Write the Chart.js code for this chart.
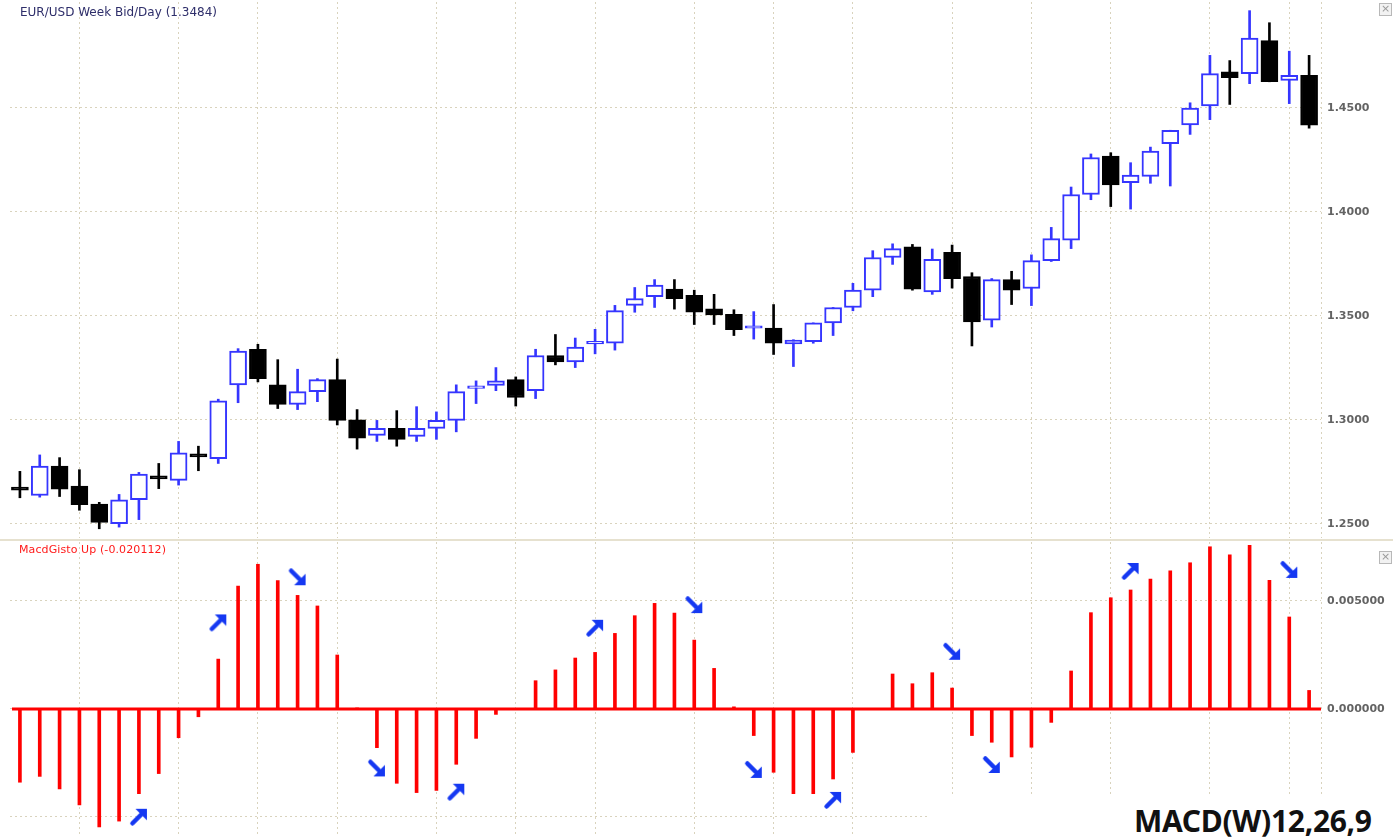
<!DOCTYPE html>
<html>
<head>
<meta charset="utf-8">
<title>EUR/USD Week + MACD</title>
<script src="https://cdn.jsdelivr.net/npm/chart.js@4.4.1/dist/chart.umd.min.js"></script>
<style>
  html, body { margin: 0; padding: 0; background: #fff; }
  #wrap { position: relative; width: 1393px; height: 837px; overflow: hidden; font-family: "DejaVu Sans", sans-serif; }
  .pane { position: absolute; left: 0; width: 1393px; }
  #pricePane { top: 0; height: 540px; }
  #macdPane { top: 541px; height: 296px; }
  .divider { position: absolute; left: 0; top: 539px; width: 1393px; height: 2px; background: #e6e1cf; }
  .title { position: absolute; white-space: nowrap; line-height: 13px; }
  #priceTitle { left: 20px; top: 6px; color: #2e2e6a; font-size: 12px; }
  #macdTitle { left: 19px; top: 543px; color: #ff1a1a; font-size: 11px; letter-spacing: 0.1px; }
  .closeBox { position: absolute; left: 1379px; width: 11px; height: 11px; border: 1px solid #b8b8b8; background: #f2f2f2;
              color: #999; font-size: 11px; line-height: 10px; text-align: center; }
  #macdName { position: absolute; left: 930px; top: 794px; width: 463px; height: 43px; background: #fff; }
  #macdName span { position: absolute; left: 204px; top: 6px; font: bold 30px "Noto Sans", sans-serif; color: #111; letter-spacing: -0.3px; }
</style>
</head>
<body>
<div id="wrap">
  <div class="pane" id="pricePane"><canvas id="priceChart"></canvas></div>
  <div class="divider"></div>
  <div class="pane" id="macdPane"><canvas id="macdChart"></canvas></div>
  <div class="title" id="priceTitle">EUR/USD Week Bid/Day (1.3484)</div>
  <div class="title" id="macdTitle">MacdGisto Up (-0.020112)</div>
  <div class="closeBox" style="top:3px">×</div>
  <div class="closeBox" style="top:551px">×</div>
  <div id="macdName"><span>MACD(W)12,26,9</span></div>
</div>
<script>
// Weekly EUR/USD candles (week index 0..65)
const opens = [
  1.2677, 1.2637, 1.2778, 1.2682, 1.2596, 1.2502, 1.2617, 1.2731, 1.2710, 1.2837,
  1.2814, 1.3169, 1.3340, 1.3169, 1.3075, 1.3136, 1.3194, 1.3001, 1.2926, 1.2960,
  1.2921, 1.2960, 1.2998, 1.3152, 1.3166, 1.3194, 1.3141, 1.3310, 1.3279, 1.3366,
  1.3369, 1.3551, 1.3593, 1.3629, 1.3599, 1.3535, 1.3508, 1.3441, 1.3442, 1.3366,
  1.3376, 1.3467, 1.3541, 1.3624, 1.3781, 1.3832, 1.3616, 1.3806, 1.3690, 1.3480,
  1.3675, 1.3632, 1.3766, 1.3865, 1.4084, 1.4269, 1.4141, 1.4171, 1.4328, 1.4419,
  1.4510, 1.4674, 1.4665, 1.4824, 1.4632, 1.4657
];
const highs = [
  1.2753, 1.2832, 1.2819, 1.2761, 1.2604, 1.2642, 1.2748, 1.2791, 1.2897, 1.2874,
  1.3100, 1.3343, 1.3364, 1.3290, 1.3244, 1.3199, 1.3293, 1.3050, 1.2998, 1.3045,
  1.3064, 1.3039, 1.3169, 1.3188, 1.3252, 1.3207, 1.3340, 1.3411, 1.3394, 1.3436,
  1.3551, 1.3637, 1.3675, 1.3675, 1.3624, 1.3604, 1.3530, 1.3521, 1.3555, 1.3386,
  1.3467, 1.3541, 1.3657, 1.3814, 1.3847, 1.3844, 1.3822, 1.3841, 1.3708, 1.3680,
  1.3715, 1.3794, 1.3926, 1.4120, 1.4279, 1.4285, 1.4237, 1.4312, 1.4393, 1.4525,
  1.4753, 1.4728, 1.4968, 1.4910, 1.4773, 1.4753
];
const lows = [
  1.2626, 1.2629, 1.2632, 1.2566, 1.2477, 1.2485, 1.2521, 1.2670, 1.2687, 1.2756,
  1.2791, 1.3083, 1.3183, 1.3055, 1.3050, 1.3088, 1.2976, 1.2860, 1.2897, 1.2874,
  1.2897, 1.2907, 1.2943, 1.3079, 1.3141, 1.3067, 1.3103, 1.3265, 1.3252, 1.3318,
  1.3336, 1.3518, 1.3541, 1.3533, 1.3459, 1.3459, 1.3406, 1.3389, 1.3315, 1.3257,
  1.3369, 1.3406, 1.3525, 1.3593, 1.3748, 1.3624, 1.3604, 1.3634, 1.3356, 1.3447,
  1.3555, 1.3550, 1.3762, 1.3824, 1.4059, 1.4026, 1.4014, 1.4138, 1.4125, 1.4373,
  1.4444, 1.4517, 1.4617, 1.4626, 1.4521, 1.4403
];
const closes = [
  1.2663, 1.2778, 1.2667, 1.2593, 1.2508, 1.2616, 1.2740, 1.2717, 1.2842, 1.2823,
  1.3092, 1.3331, 1.3199, 1.3075, 1.3136, 1.3194, 1.2998, 1.2913, 1.2960, 1.2907,
  1.2960, 1.2998, 1.3136, 1.3164, 1.3188, 1.3108, 1.3310, 1.3279, 1.3351, 1.3378,
  1.3526, 1.3584, 1.3649, 1.3583, 1.3518, 1.3505, 1.3434, 1.3453, 1.3369, 1.3384,
  1.3467, 1.3541, 1.3624, 1.3781, 1.3824, 1.3629, 1.3773, 1.3679, 1.3472, 1.3675,
  1.3624, 1.3766, 1.3872, 1.4084, 1.4262, 1.4130, 1.4178, 1.4293, 1.4393, 1.4500,
  1.4665, 1.4646, 1.4836, 1.4626, 1.4657, 1.4417
];

// MACD histogram, one bar per week
const macdHist = [
  -0.00339, -0.00312, -0.00370, -0.00444, -0.00546, -0.00519, -0.00392, -0.00299, -0.00133, -0.00036,
   0.00231,  0.00569,  0.00670,  0.00594,  0.00526,  0.00477,  0.00250,  0.00005, -0.00179, -0.00344,
  -0.00387, -0.00377, -0.00256, -0.00136, -0.00025,  0.00002,  0.00131,  0.00181,  0.00236,  0.00262,
   0.00350,  0.00432,  0.00489,  0.00444,  0.00319,  0.00188,  0.00010, -0.00123, -0.00293, -0.00392,
  -0.00392, -0.00324, -0.00201,  0.00002,  0.00162,  0.00117,  0.00168,  0.00097, -0.00123, -0.00154,
  -0.00222, -0.00177, -0.00062,  0.00176,  0.00446,  0.00515,  0.00551,  0.00602,  0.00640,  0.00677,
   0.00751,  0.00714,  0.00758,  0.00596,  0.00426,  0.00086
];

// blue turn arrows on the histogram (week, level, 1 = up / -1 = down)
const arrowWeeks  = [6, 10, 14, 18, 22, 29, 34, 37, 41, 47, 49, 56, 64];
const arrowLevels = [-0.00499, 0.00401, 0.00610, -0.00275, -0.00383, 0.00376, 0.00481, -0.00282, -0.00421, 0.00265, -0.00259, 0.00639, 0.00644];
const arrowDirs   = [1, 1, -1, -1, 1, 1, -1, -1, 1, -1, -1, 1, -1];

// axis ticks / month separators
const monthStartWeeks = [3, 8, 12, 16, 21, 25, 29, 34, 38, 42, 47, 51, 55, 60, 64];
const priceTicks = [1.25, 1.30, 1.35, 1.40, 1.45];
const macdTicks = [-0.005, 0, 0.005];

const weeks = opens.map((_, i) => i);
const X_MIN = -0.5, X_MAX = 65.6;

const UP_COLOR = '#3535ff';
const DOWN_COLOR = '#000000';
const GRID_COLOR = '#d9d3bd';
const isUp = i => closes[i] >= opens[i];

const xScaleOpts = {
    type: 'linear',
    min: X_MIN,
    max: X_MAX,
    offset: false,
    ticks: { display: false },
    border: { display: false, dash: [2, 3] },
    grid: { color: GRID_COLOR, drawTicks: false, offset: false },
    afterBuildTicks: (scale) => {
        scale.ticks = monthStartWeeks.concat([X_MAX]).map(v => ({ value: v }));
    }
};

const yAxisCommon = (ticksArr, digits) => ({
    position: 'right',
    border: { display: false, dash: [2, 3] },
    grid: { color: GRID_COLOR, drawTicks: false },
    ticks: {
        padding: 6,
        color: '#636363',
        font: { family: 'DejaVu Sans', size: 11, weight: 'bold' },
        callback: v => Number(v).toFixed(digits)
    },
    afterBuildTicks: (scale) => { scale.ticks = ticksArr.map(v => ({ value: v })); },
    afterFit: (scale) => {
        scale.width = 72;
        scale.paddingTop = 0;
        scale.paddingBottom = 0;
    }
});

Chart.defaults.animation = false;

// Gráfico de velas
new Chart(document.getElementById('priceChart'), {
    type: 'bar',
    data: {
        datasets: [
            {
                label: 'body',
                data: weeks.map(i => ({ x: i, y: [opens[i], closes[i]] })),
                grouped: false,
                barThickness: 17,
                borderWidth: 2,
                borderSkipped: false,
                backgroundColor: ctx => isUp(ctx.dataIndex) ? '#ffffff' : DOWN_COLOR,
                borderColor: ctx => isUp(ctx.dataIndex) ? UP_COLOR : DOWN_COLOR
            },
            {
                label: 'wick',
                data: weeks.map(i => ({ x: i, y: [lows[i], highs[i]] })),
                grouped: false,
                barThickness: 2,
                borderWidth: 0,
                backgroundColor: ctx => isUp(ctx.dataIndex) ? UP_COLOR : DOWN_COLOR
            }
        ]
    },
    options: {
        responsive: true,
        maintainAspectRatio: false,
        layout: { autoPadding: false, padding: { left: 10, top: 2, bottom: 2, right: 0 } },
        plugins: { legend: { display: false }, tooltip: { enabled: false } },
        scales: {
            x: xScaleOpts,
            y: Object.assign(yAxisCommon(priceTicks, 4), { min: 1.24326, max: 1.50096 })
        }
    }
});

// Flechas azules
const makeArrow = (up) => {
    const c = document.createElement('canvas');
    c.width = 20; c.height = 20;
    const g = c.getContext('2d');
    if (!up) { g.translate(0, 20); g.scale(1, -1); }
    g.fillStyle = g.strokeStyle = '#1538f2';
    g.lineWidth = 4.5;
    g.lineCap = 'round';
    g.beginPath(); g.moveTo(3.5, 16.5); g.lineTo(12, 8); g.stroke();
    g.beginPath(); g.moveTo(18, 2); g.lineTo(18, 13.5); g.lineTo(6.5, 2); g.closePath(); g.fill();
    return c;
};
const arrowUp = makeArrow(true);
const arrowDown = makeArrow(false);

// Línea cero roja
const zeroLinePlugin = {
    id: 'zeroLine',
    afterDatasetsDraw(chart) {
        const { ctx, chartArea, scales } = chart;
        const y = scales.y.getPixelForValue(0);
        ctx.save();
        ctx.strokeStyle = '#ff0000';
        ctx.lineWidth = 3;
        ctx.beginPath();
        ctx.moveTo(chartArea.left + 2, y);
        ctx.lineTo(chartArea.right, y);
        ctx.stroke();
        ctx.restore();
    }
};

// Histograma MACD
new Chart(document.getElementById('macdChart'), {
    type: 'bar',
    data: {
        datasets: [
            {
                type: 'line',
                label: 'turns',
                data: arrowWeeks.map((w, i) => ({ x: w, y: arrowLevels[i] })),
                showLine: false,
                clip: false,
                pointStyle: arrowDirs.map(d => d > 0 ? arrowUp : arrowDown),
                pointRadius: 10
            },
            {
                label: 'MacdGisto',
                data: weeks.map(i => ({ x: i, y: macdHist[i] })),
                barThickness: 3,
                borderWidth: 0,
                backgroundColor: '#ff0000'
            }
        ]
    },
    options: {
        responsive: true,
        maintainAspectRatio: false,
        layout: { autoPadding: false, padding: { left: 10, top: 1, bottom: 0, right: 0 } },
        plugins: { legend: { display: false }, tooltip: { enabled: false } },
        scales: {
            x: xScaleOpts,
            y: Object.assign(yAxisCommon(macdTicks, 6), { min: -0.005926, max: 0.007731 })
        }
    },
    plugins: [zeroLinePlugin]
});
</script>
</body>
</html>
